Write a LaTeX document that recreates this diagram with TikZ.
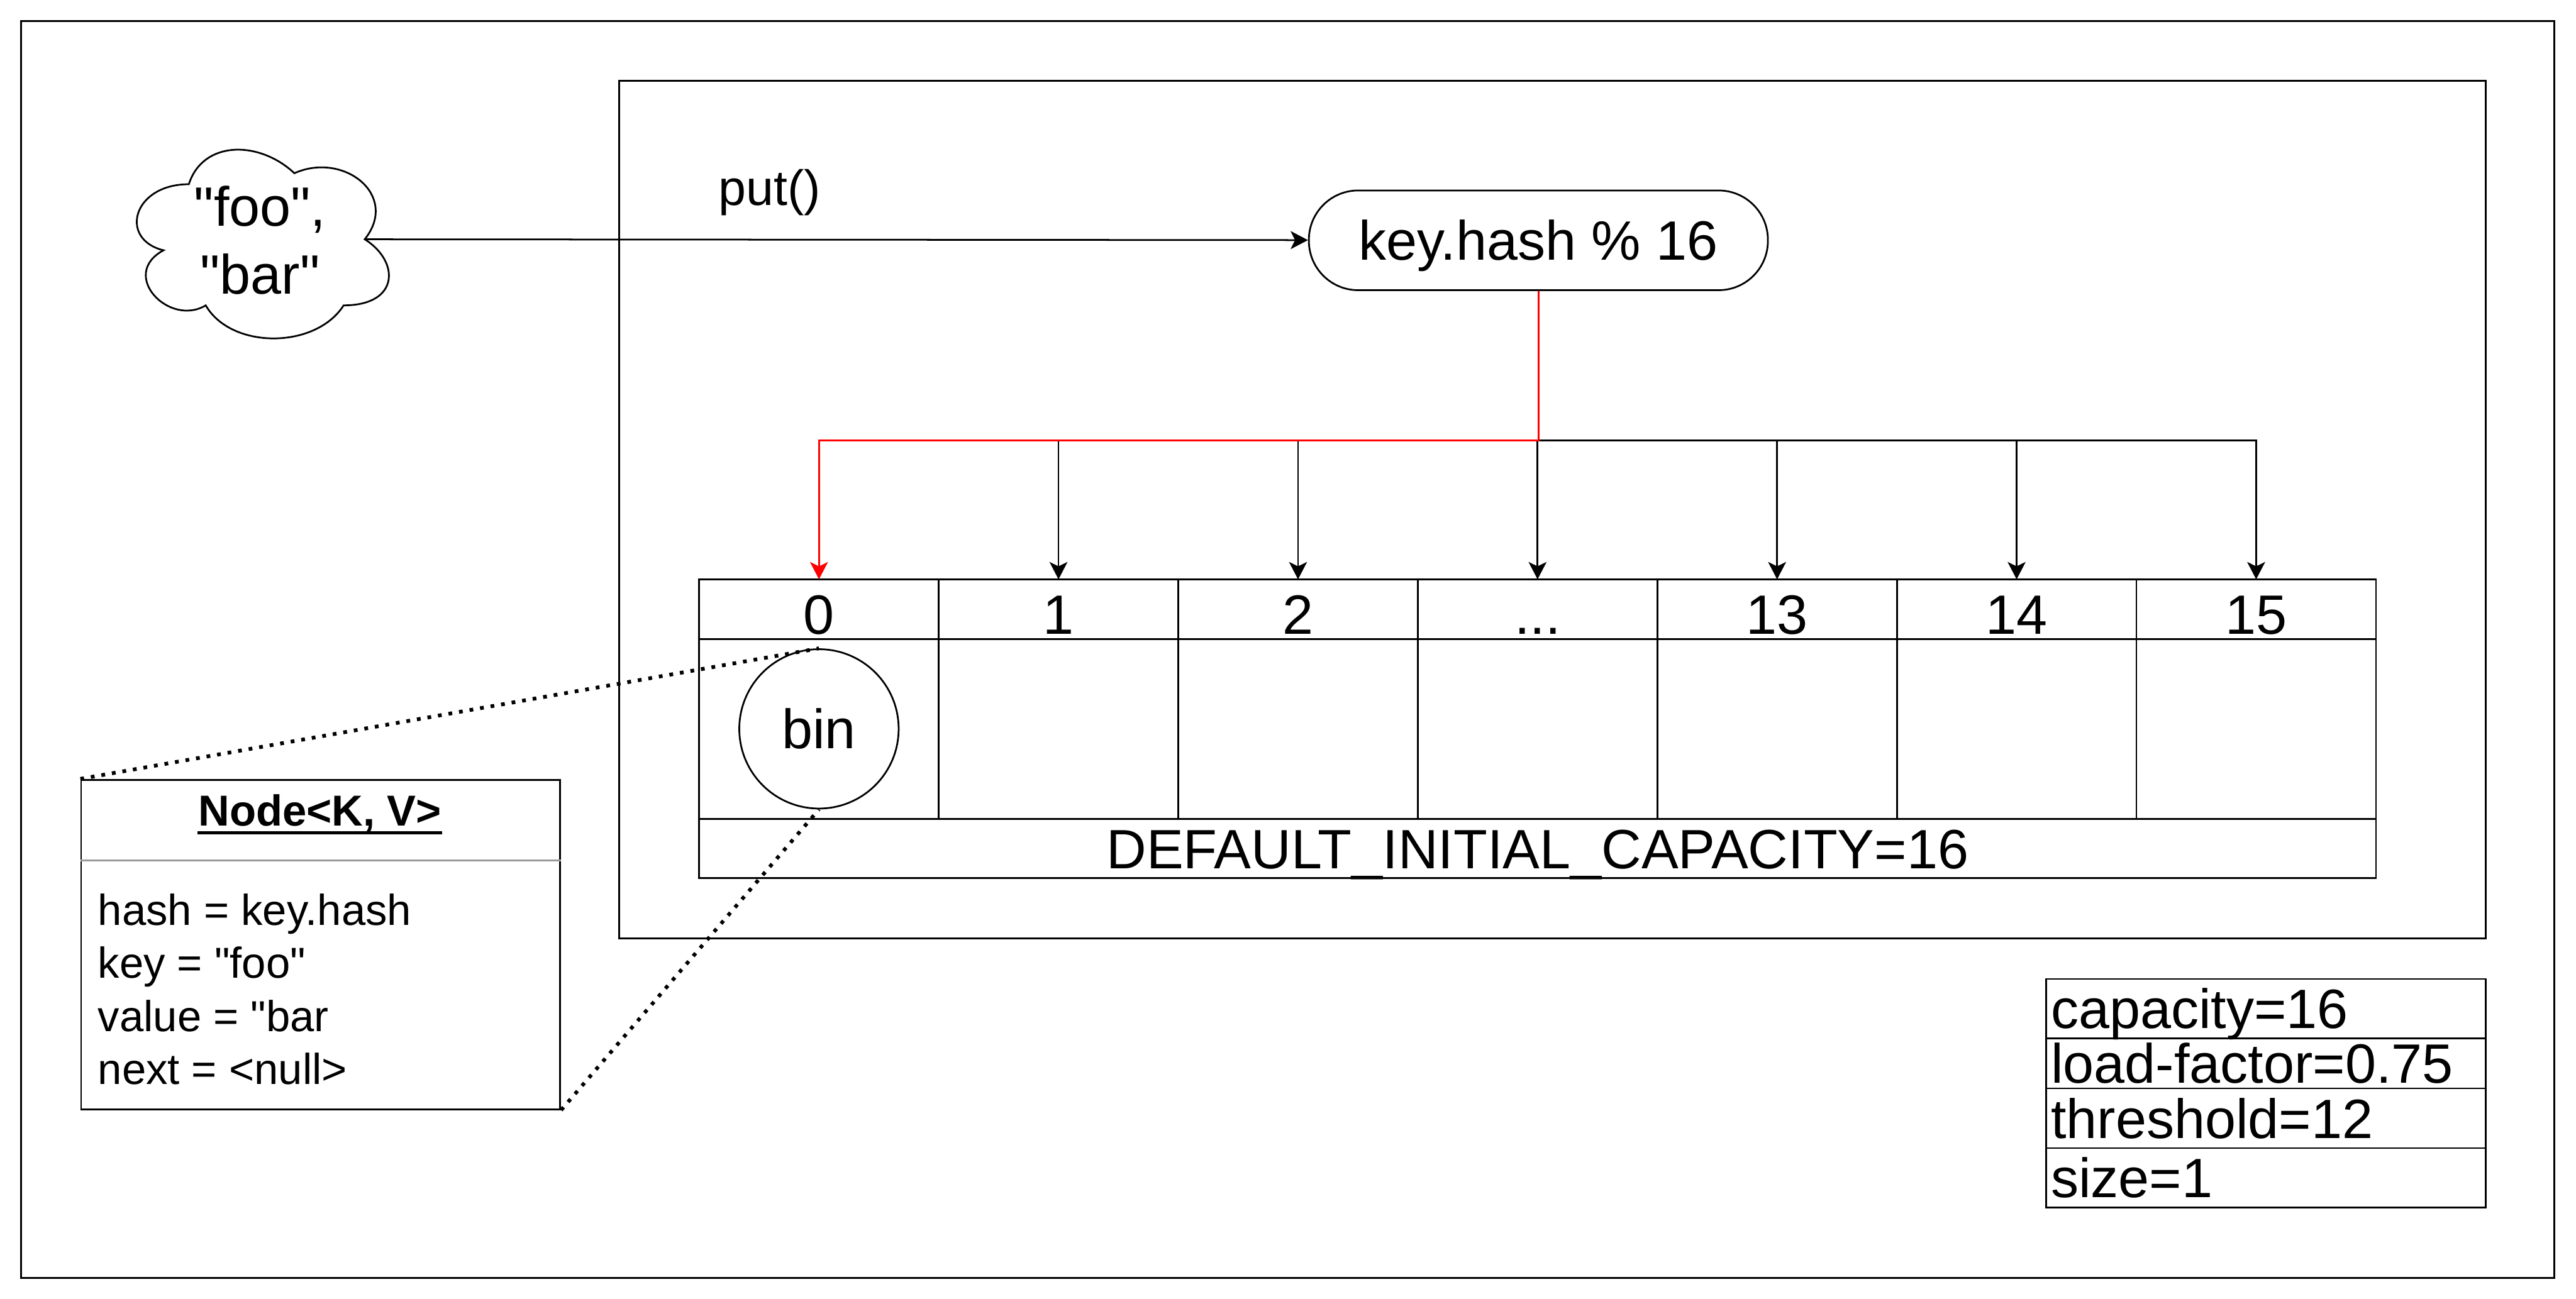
\documentclass[tikz,border=0pt]{standalone}
\usepackage{fontspec}
\setmainfont{Liberation Sans}[Ligatures=TeXOff]
\usepackage{tikz}
\usetikzlibrary{arrows.meta, calc, positioning}

\newcommand{\celldots}{...}

\tikzset{
  big/.style={font=\fontsize{9.6}{11.5}\selectfont},
  small/.style={font=\fontsize{7.5}{9.2}\selectfont},
  cell/.style={draw, rectangle, inner sep=0pt, outer sep=0pt, minimum width=1.458cm, big, text height=6.9pt, text depth=0pt},
  idx/.style={cell, minimum height=0.363cm, text height=8.6pt},
  statrow/.style={draw, rectangle, inner xsep=0.03cm, inner ysep=0pt, outer sep=0pt, text width=2.615cm, align=left, big, text height=6.9pt, text depth=0pt},
  link/.style={-{Stealth[length=3pt, width=3.1pt, inset=0.75pt]}},
  hint/.style={line width=0.65pt, dash pattern=on 0.65pt off 1.2pt}
}

\begin{document}
\begin{tikzpicture}[line width=0.3pt]
  \useasboundingbox (0,0) rectangle (15.68,-7.907);

  % Outer and inner frames
  \draw (0.128,-0.128) rectangle (15.549,-7.779);
  \draw (3.768,-0.492) rectangle (15.129,-5.713);

  % Input pair (cloud)
  \node[big, font=\fontsize{9.6}{11.8}\selectfont, align=center, minimum width=1.713cm, minimum height=1.341cm] (pair) at (1.583,-1.462) {"foo",\\"bar"};
  \begin{scope}[shift={(pair.north west)}, x=1.713cm, y=-1.341cm]
    \draw (0.25,0.25) .. controls (0.05,0.25) and (0,0.5) .. (0.16,0.55)
      .. controls (0,0.66) and (0.18,0.9) .. (0.31,0.8)
      .. controls (0.4,1) and (0.7,1) .. (0.8,0.8)
      .. controls (1,0.8) and (1,0.6) .. (0.875,0.5)
      .. controls (1,0.3) and (0.8,0.1) .. (0.625,0.2)
      .. controls (0.5,0.05) and (0.3,0.05) .. (0.25,0.25) -- cycle;
    \coordinate (pairout) at (0.875,0.5);
  \end{scope}

  % Hash function
  \node[draw, big, rounded corners=0.3cm, minimum width=2.794cm, minimum height=0.607cm, text height=6.9pt, text depth=0pt] (hash) at (9.364,-1.463) {key.hash \% 16};
  \node[font=\fontsize{8.6}{10}\selectfont] (putlbl) at (4.685,-1.17) {put()};
  \draw[link] (pairout) -- (hash);

  % Bucket array
  \foreach \lbl [count=\i from 0] in {0,1,2,\celldots,13,14,15} {
    \node[idx, anchor=north west] (h\i) at ({4.256+1.458*\i},-3.527) {\lbl};
    \node[cell, minimum height=1.095cm, anchor=north west] (b\i) at ({4.256+1.458*\i},-3.89) {};
  }
  \node[cell, minimum width=10.206cm, minimum height=0.361cm, anchor=north west] (capline) at (4.256,-4.985) {DEFAULT\_INITIAL\_CAPACITY=16};
  \node[draw, circle, big, minimum size=0.97cm, inner sep=0pt, text height=6.9pt, text depth=0pt] (bin) at (b0) {bin};

  % Index arrows
  \coordinate (fork) at ($(hash.south)+(0,-0.91)$);
  \foreach \i in {1,...,6}
    \draw[link] (hash.south) -- (fork) -| (h\i.north);
  \draw[link, red] (hash.south) -- (fork) -| (h0.north);

  % Entry node
  \node[draw, minimum width=2.916cm, minimum height=2.006cm, anchor=north west] (entry) at (0.489,-4.742) {};
  \node[font=\fontsize{7.5}{9}\selectfont\bfseries, inner sep=0pt, text height=5.4pt, text depth=0pt] (entrytitle) at (1.947,-4.935) {Node<K, V>};
  \draw[line width=0.6pt] ($(entrytitle.south west)+(0,-0.035)$) -- ($(entrytitle.south east)+(0,-0.035)$);
  \draw[black!40] ($(entry.north west)+(0,-0.496)$) -- ($(entry.north east)+(0,-0.496)$);
  \foreach \fld [count=\k] in {hash = key.hash, key = "foo", value = "bar, next = <null>}
    \node[small, anchor=base west, inner sep=0pt] (f\k) at (0.591,{-5.631-0.324*(\k-1)}) {\fld};

  % Map parameters
  \node[statrow, minimum height=0.361cm, anchor=north west] (capa) at (12.454,-5.96) {capacity=16};
  \node[statrow, minimum height=0.305cm, below=0pt of capa] (lf) {load-factor=0.75};
  \node[statrow, minimum height=0.364cm, below=0pt of lf] (thr) {threshold=12};
  \node[statrow, minimum height=0.361cm, below=0pt of thr] (sz) {size=1};

  % Bin detail links
  \draw[hint] (entry.north west) -- (bin.north);
  \draw[hint] (entry.south east) -- (bin.south);
\end{tikzpicture}
\end{document}
